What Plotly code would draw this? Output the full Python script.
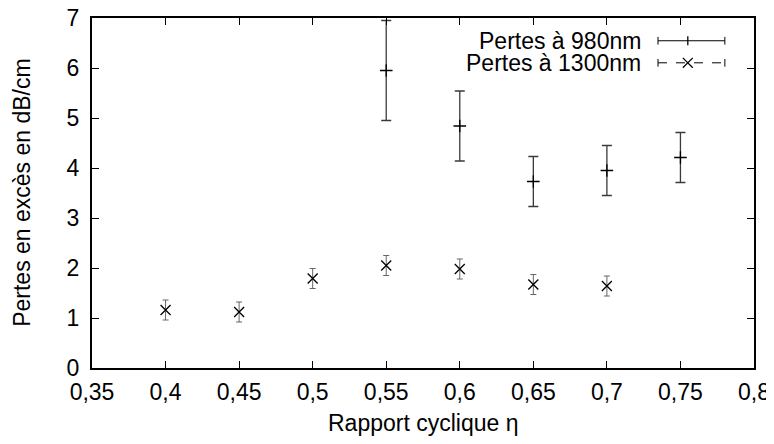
import plotly.graph_objects as go

x980 = [0.55, 0.60, 0.65, 0.70, 0.75]
y980 = [5.95, 4.84, 3.73, 3.95, 4.21]
e980 = [1.0, 0.7, 0.5, 0.5, 0.5]

x1300 = [0.40, 0.45, 0.50, 0.55, 0.60, 0.65, 0.70]
y1300 = [1.16, 1.12, 1.79, 2.05, 1.98, 1.67, 1.64]
e1300 = [0.2, 0.2, 0.2, 0.2, 0.2, 0.2, 0.2]

xticks = [0.35, 0.40, 0.45, 0.50, 0.55, 0.60, 0.65, 0.70, 0.75, 0.80]
xticklabels = ["0,35", "0,4", "0,45", "0,5", "0,55", "0,6", "0,65", "0,7", "0,75", "0,8"]
yticks = [0, 1, 2, 3, 4, 5, 6, 7]

FONT = "Liberation Sans, Arial, Helvetica, sans-serif"
FS = 23

fig = go.Figure()
fig.add_trace(go.Scatter(
    x=x980, y=y980, mode="markers", name="Pertes à 980nm",
    marker=dict(symbol="cross-thin", size=9, color="black", line=dict(width=1.3, color="black")),
    error_y=dict(type="data", array=e980, visible=True, color="#3a3a3a", thickness=1.3, width=5),
    showlegend=False,
))
fig.add_trace(go.Scatter(
    x=x1300, y=y1300, mode="markers", name="Pertes à 1300nm",
    marker=dict(symbol="x-thin", size=10, color="black", line=dict(width=1.3, color="black")),
    error_y=dict(type="data", array=e1300, visible=True, color="#666666", thickness=1, width=3),
    showlegend=False,
))

# manual legend (text left of sample, as in gnuplot)
legend_items = [("Pertes à 980nm", 0.935, "solid", "plus"), ("Pertes à 1300nm", 0.872, "dash", "x")]
for text, yp, dash, mk in legend_items:
    fig.add_annotation(xref="paper", yref="paper", x=0.833, y=yp, text=text, showarrow=False,
                       xanchor="right", yanchor="middle", font=dict(family=FONT, size=FS, color="black"))
    x0, x1, xm = 0.855, 0.956, 0.900
    fig.add_shape(type="line", xref="paper", yref="paper", x0=x0, x1=x1, y0=yp, y1=yp,
                  line=dict(color="black", width=1, dash=dash))
    for xx in (x0, x1):
        fig.add_shape(type="line", xref="paper", yref="paper", x0=xx, x1=xx, y0=yp - 0.011, y1=yp + 0.011,
                      line=dict(color="black", width=1))
    if mk == "plus":
        fig.add_shape(type="line", xref="paper", yref="paper", x0=xm, x1=xm, y0=yp - 0.013, y1=yp + 0.013,
                      line=dict(color="black", width=1.3))
    else:
        fig.add_shape(type="line", xref="paper", yref="paper", x0=xm - 0.0075, x1=xm + 0.0075, y0=yp - 0.014, y1=yp + 0.014,
                      line=dict(color="black", width=1.3))
        fig.add_shape(type="line", xref="paper", yref="paper", x0=xm - 0.0075, x1=xm + 0.0075, y0=yp + 0.014, y1=yp - 0.014,
                      line=dict(color="black", width=1.3))

# axis titles as annotations for exact placement
fig.add_annotation(xref="paper", yref="paper", x=0.5, y=-0.157, text="Rapport cyclique η", showarrow=False,
                   xanchor="center", yanchor="middle", font=dict(family=FONT, size=FS, color="black"))
fig.add_annotation(xref="paper", yref="paper", x=-0.106, y=0.5, text="Pertes en excès en dB/cm", showarrow=False,
                   textangle=-90, xanchor="center", yanchor="middle", font=dict(family=FONT, size=FS, color="black"))

axis_common = dict(showline=True, linecolor="black", linewidth=2, mirror="allticks",
                   ticks="inside", ticklen=7, tickcolor="black", tickwidth=1,
                   showgrid=False, zeroline=False, automargin=False, ticklabeloverflow="allow",
                   tickfont=dict(family=FONT, size=FS, color="black"))

fig.update_xaxes(range=[0.35, 0.80], tickvals=xticks, ticktext=xticklabels, ticklabelstandoff=2,
                 **axis_common)
fig.update_yaxes(range=[0, 7], tickvals=yticks, ticklabelstandoff=6,
                 **axis_common)

# page body has an 8px margin, so the figure is sized/offset to compensate
fig.update_layout(width=766, height=436, margin=dict(l=84, r=20, t=10, b=76, autoexpand=False),
                  plot_bgcolor="white", paper_bgcolor="white", showlegend=False,
                  font=dict(family=FONT, size=FS, color="black"))

fig.write_html("out.html")
